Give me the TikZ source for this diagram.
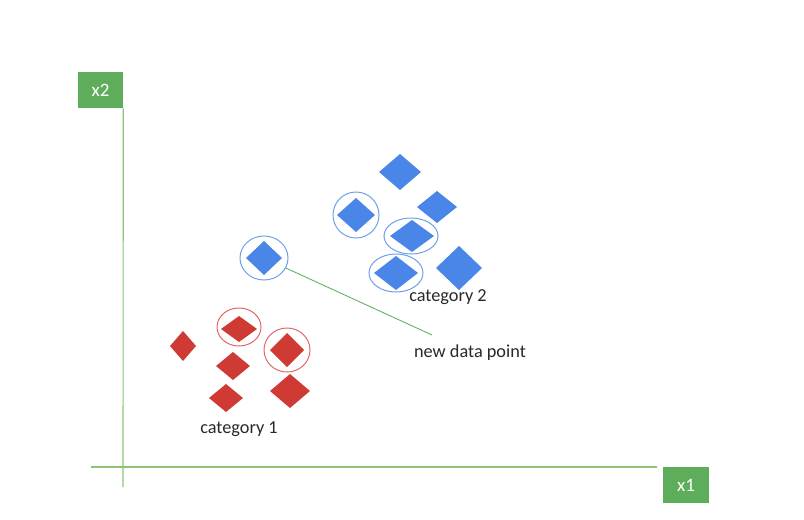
\documentclass[tikz,border=0pt]{standalone}
\usepackage{fontspec}
\setmainfont{Carlito}
\usepackage{xcolor}
\usepackage{tikz}
\usetikzlibrary{shapes.geometric}

\definecolor{ptred}{RGB}{208,58,52}
\definecolor{ptblue}{RGB}{74,134,232}
\definecolor{ringred}{RGB}{224,102,102}
\definecolor{ringblue}{RGB}{109,158,235}
\definecolor{boxgreen}{RGB}{94,173,90}
\definecolor{axisgreen}{RGB}{140,195,120}
\definecolor{txt}{RGB}{40,40,40}

\tikzset{
  pt/.style={diamond, inner sep=0pt, outer sep=0pt},
  redpt/.style={pt, fill=ptred},
  bluept/.style={pt, fill=ptblue},
  ring/.style={ellipse, inner sep=0pt, outer sep=0pt, line width=0.7pt},
  redring/.style={ring, draw=ringred},
  bluering/.style={ring, draw=ringblue},
  axisbox/.style={fill=boxgreen, text=white, inner sep=0pt, minimum height=0.9cm, font=\fontsize{13.5}{15}\selectfont},
  lbl/.style={text=txt, inner sep=0pt, font=\fontsize{13}{15}\selectfont}
}

\begin{document}
\begin{tikzpicture}[x=0.025cm,y=-0.025cm]
\useasboundingbox (0,0) rectangle (804,520);

% axes
\node[axisbox, minimum width=1.125cm] (xtwo) at (100.5,90) {x2};
\node[axisbox, minimum width=1.15cm] (xone) at (686,485) {x1};
\draw[axisgreen, line width=0.8pt] (xtwo.south east) -- (123,487); %x2
\draw[axisgreen, line width=0.8pt] (91,467) -- (657,467); %x1

% category 1
\node[redpt, minimum width=0.65cm, minimum height=0.75cm] (r1) at (183,346) {};
\node[redpt, minimum width=0.9cm, minimum height=0.65cm] (r2) at (239,329) {};
\node[redpt, minimum width=0.85cm, minimum height=0.85cm] (r3) at (287,350) {};
\node[redpt, minimum width=0.85cm, minimum height=0.7cm] (r4) at (233,366) {};
\node[redpt, minimum width=0.85cm, minimum height=0.7cm] (r5) at (226,398) {};
\node[redpt, minimum width=1.0cm, minimum height=0.85cm] (r6) at (290,391) {};
\node[redring, minimum width=1.1cm, minimum height=0.95cm] (r2ring) at (239,327) {};
\node[redring, minimum width=1.15cm, minimum height=1.1cm] (r3ring) at (287,350) {};
\node[lbl] (cat1) at (239,429) {category 1};

% category 2
\node[bluept, minimum width=1.05cm, minimum height=0.9cm] (b1) at (400,172) {};
\node[bluept, minimum width=0.95cm, minimum height=0.85cm] (b2) at (356,215) {};
\node[bluept, minimum width=1.0cm, minimum height=0.8cm] (b3) at (437,207) {};
\node[bluept, minimum width=1.1cm, minimum height=0.8cm] (b4) at (412,236) {};
\node[bluept, minimum width=1.1cm, minimum height=0.85cm] (b5) at (396,273) {};
\node[bluept, minimum width=1.15cm, minimum height=1.1cm] (b6) at (459,268) {};
\node[bluering, minimum width=1.15cm, minimum height=1.15cm] (b2ring) at (356,215) {};
\node[bluering, minimum width=1.35cm, minimum height=0.9cm] (b4ring) at (411,236) {};
\node[bluering, minimum width=1.35cm, minimum height=0.95cm] (b5ring) at (396,273) {};
\node[lbl] (cat2) at (448,297) {category 2};

% new data point
\node[bluept, minimum width=0.9cm, minimum height=0.85cm] (newpt) at (264,258) {};
\node[bluering, minimum width=1.2cm, minimum height=1.1cm] (newring) at (264,258) {};
\node[lbl] (newlbl) at (470,353) {new data point};
\coordinate (tip) at (432,335);
\draw[boxgreen, line width=0.6pt] (newring) -- (tip);
\end{tikzpicture}
\end{document}
